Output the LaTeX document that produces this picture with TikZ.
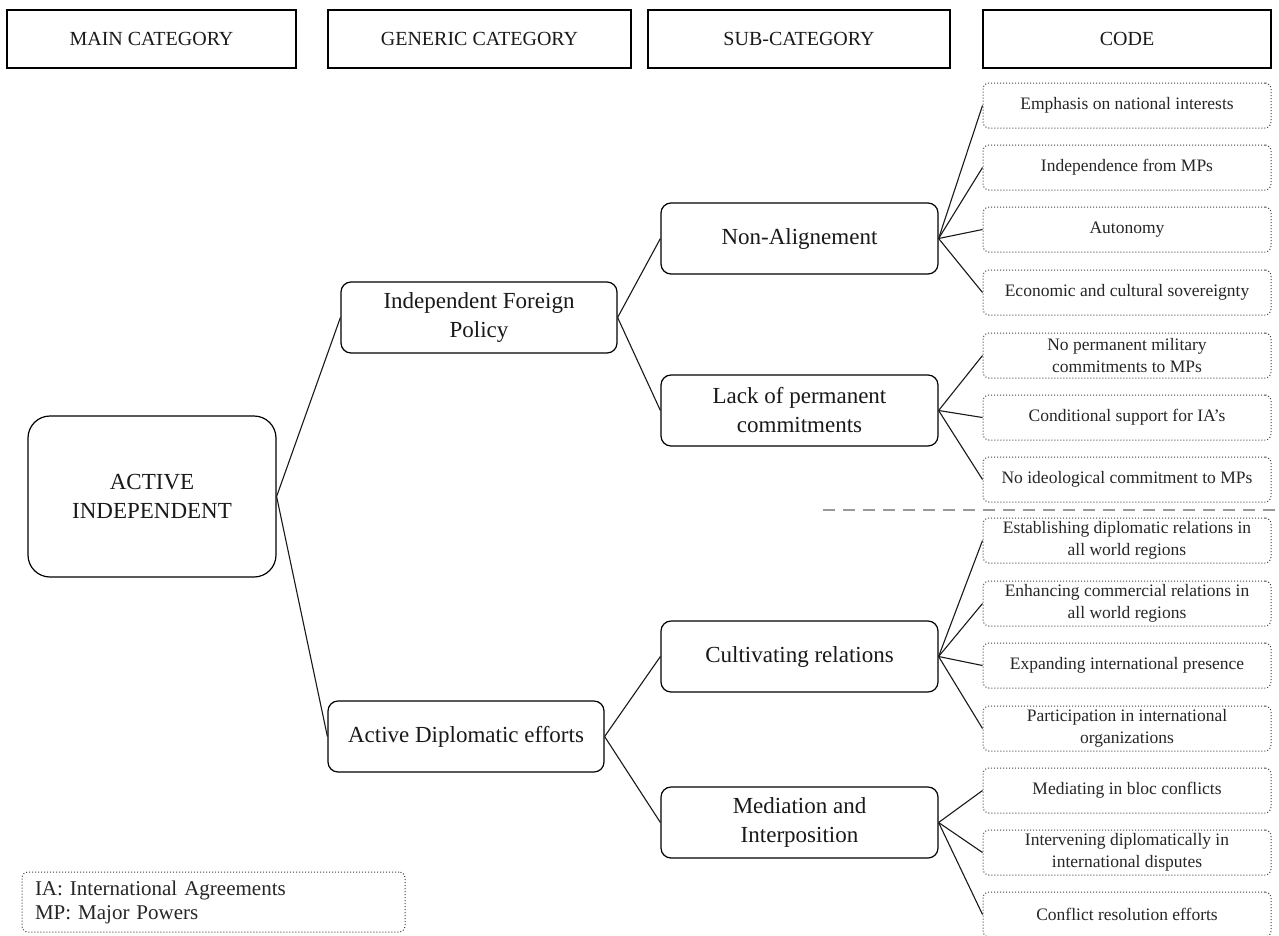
\documentclass[tikz,border=0pt]{standalone}
\usepackage{fontspec}
\setmainfont{Liberation Serif}
\begin{document}
\begin{tikzpicture}[x=1pt,y=-1pt,
  hdr/.style={draw=black,line width=1.2pt,minimum width=#1,minimum height=58pt,inner sep=0pt,font=\fontsize{20}{24}\selectfont,text=black!90},
  mid/.style={draw=black,line width=1.2pt,rounded corners=10pt,minimum width=277pt,minimum height=71pt,inner sep=0pt,align=center,font=\fontsize{23}{29}\selectfont,text=black!90},
  codebox/.style={draw=black!75,line width=1pt,dash pattern=on 1pt off 2pt,rounded corners=6pt,minimum width=288pt,minimum height=45pt,inner sep=0pt,align=center,font=\fontsize{17.5}{22}\selectfont,text=black!85},
  link/.style={draw=black!90,line width=1.1pt},
  sep/.style={draw=black!40,line width=2.5pt,dash pattern=on 12pt off 8pt}]
\clip (0,0) rectangle (1279,935);
\fill[white] (0,0) rectangle (1279,935);
% headers
\node[hdr=289pt] (h1) at (151.5,39) {MAIN CATEGORY};
\node[hdr=303pt] (h2) at (479.5,39) {GENERIC CATEGORY};
\node[hdr=302pt] (h3) at (799,39) {SUB-CATEGORY};
\node[hdr=288pt] (h4) at (1127,39) {CODE};
% main
\node[mid,rounded corners=22pt,minimum width=248pt,minimum height=161pt] (act) at (152,496.5) {ACTIVE\\INDEPENDENT};
% generic
\node[mid,minimum width=276pt] (ifp) at (479,317.5) {Independent Foreign\\Policy};
\node[mid,minimum width=276pt] (ade) at (466,736.5) {Active Diplomatic efforts};
% sub
\node[mid] (na) at (799.5,238.5) {Non-Alignement};
\node[mid] (lack) at (799.5,410.5) {Lack of permanent\\commitments};
\node[mid] (cult) at (799.5,656.5) {Cultivating relations};
\node[mid] (med) at (799.5,822.5) {Mediation and\\Interposition};
% codes
\node[codebox] (c1) at (1127,105.5) {Emphasis on national interests};
\node[codebox] (c2) at (1127,167.5) {Independence from MPs};
\node[codebox] (c3) at (1127,229.5) {Autonomy};
\node[codebox] (c4) at (1127,292.5) {Economic and cultural sovereignty};
\node[codebox] (c5) at (1127,355.5) {No permanent military\\commitments to MPs};
\node[codebox] (c6) at (1127,417.5) {Conditional support for IA’s};
\node[codebox] (c7) at (1127,479.5) {No ideological commitment to MPs};
\node[codebox] (c8) at (1127,540.5) {Establishing diplomatic relations in\\all world regions};
\node[codebox] (c9) at (1127,603.5) {Enhancing commercial relations in\\all world regions};
\node[codebox] (c10) at (1127,665.5) {Expanding international presence};
\node[codebox] (c11) at (1127,728.5) {Participation in international\\organizations};
\node[codebox] (c12) at (1127,790.5) {Mediating in bloc conflicts};
\node[codebox] (c13) at (1127,852.5) {Intervening diplomatically in\\international disputes};
\node[codebox] (c14) at (1127,914.5) {Conflict resolution efforts};
% legend
\node[codebox,minimum width=383pt,minimum height=60pt,align=left,text width=357pt,font=\fontsize{21}{24}\selectfont] (leg) at (213.5,902) {IA: International Agreements\\MP: Major Powers};
% separator
\coordinate (s1) at (823,510);
\coordinate (s2) at (1279,510);
\draw[sep] (s1) -- (s2);
% connectors
\draw[link] (act.east) -- (ifp.west);
\draw[link] (act.east) -- (ade.west);
\draw[link] (ifp.east) -- (na.west);
\draw[link] (ifp.east) -- (lack.west);
\draw[link] (ade.east) -- (cult.west);
\draw[link] (ade.east) -- (med.west);
\foreach \c in {c1,c2,c3,c4} \draw[link] (na.east) -- (\c.west);
\foreach \c in {c5,c6,c7} \draw[link] (lack.east) -- (\c.west);
\foreach \c in {c8,c9,c10,c11} \draw[link] (cult.east) -- (\c.west);
\foreach \c in {c12,c13,c14} \draw[link] (med.east) -- (\c.west);
\end{tikzpicture}
\end{document}
